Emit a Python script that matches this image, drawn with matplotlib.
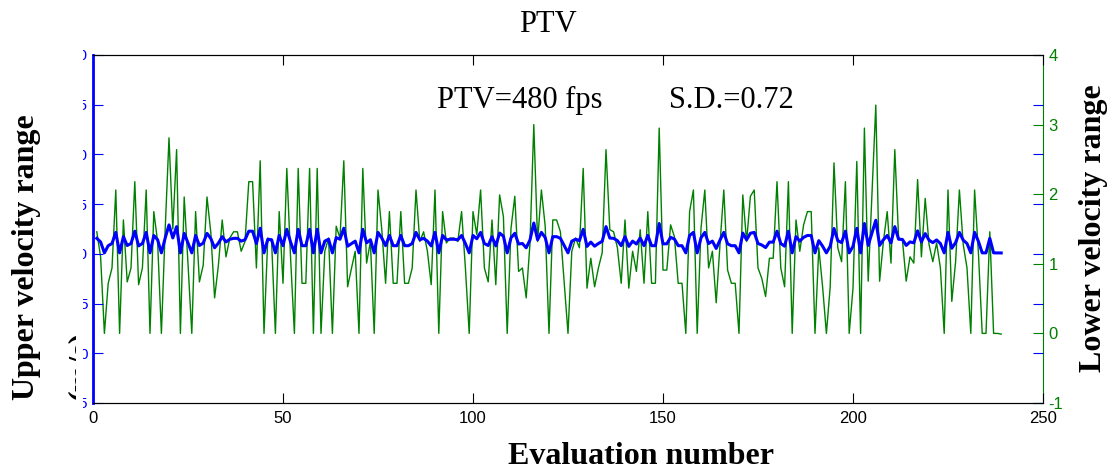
import numpy as np
import matplotlib
matplotlib.use("Agg")
import matplotlib.pyplot as plt
from matplotlib.transforms import Bbox, TransformedBbox

# data (evaluation 1..239)
lower_velocity = [
    1.46, 1.10, 0.00, 0.72, 0.94, 2.06, 0.00, 1.63, 0.74, 0.94,
    2.18, 0.70, 0.94, 2.06, 0.00, 1.75, 1.32, 0.00, 1.50, 2.81,
    1.50, 2.64, 0.00, 1.96, 1.00, 0.00, 1.75, 0.74, 0.98, 1.96,
    1.45, 0.51, 0.98, 1.63, 1.10, 1.37, 1.46, 1.46, 1.18, 1.32,
    2.18, 2.18, 0.94, 2.48, 0.00, 1.37, 1.32, 0.00, 1.75, 0.72,
    2.37, 1.08, 0.00, 2.37, 0.72, 0.72, 2.37, 0.00, 2.37, 0.00,
    1.18, 1.37, 0.00, 1.54, 1.37, 2.48, 0.67, 0.93, 1.18, 0.00,
    2.37, 1.01, 1.32, 0.00, 2.06, 1.49, 0.72, 1.75, 0.72, 0.72,
    1.75, 0.72, 0.72, 0.94, 2.06, 1.32, 1.46, 1.18, 0.70, 2.06,
    0.00, 1.75, 1.30, 1.37, 1.37, 1.32, 1.75, 0.94, 0.00, 1.75,
    1.42, 2.06, 0.94, 0.74, 1.63, 0.70, 1.99, 1.68, 0.00, 1.51,
    1.97, 0.89, 0.94, 0.51, 1.30, 3.00, 1.32, 2.06, 1.54, 0.00,
    1.63, 1.63, 1.46, 0.74, 0.00, 1.18, 1.37, 1.23, 2.37, 0.65,
    1.08, 0.67, 0.94, 1.16, 2.64, 1.49, 1.46, 1.23, 0.72, 1.63,
    0.65, 1.18, 0.89, 1.49, 0.72, 1.75, 0.72, 0.72, 2.95, 0.91,
    0.91, 1.56, 1.39, 0.72, 0.72, 0.00, 1.75, 2.06, 0.00, 1.51,
    2.06, 0.94, 1.18, 0.44, 1.28, 2.06, 0.91, 0.72, 0.72, 0.00,
    1.99, 1.32, 1.97, 2.06, 0.94, 0.79, 0.53, 1.08, 1.08, 2.18,
    0.94, 0.67, 2.18, 0.00, 1.63, 1.18, 1.56, 1.75, 1.75, 0.00,
    1.23, 0.67, 0.00, 0.67, 2.45, 1.23, 1.03, 2.18, 0.00, 0.65,
    2.47, 0.00, 2.95, 0.75, 2.00, 3.28, 0.75, 1.32, 1.75, 1.01,
    2.64, 1.37, 1.35, 0.75, 1.10, 1.01, 2.21, 1.10, 1.94, 1.28,
    1.03, 1.30, 0.94, 0.00, 2.06, 0.46, 1.03, 2.06, 1.28, 0.94,
    0.00, 2.06, 1.16, 0.00, 0.00, 1.46, 0.00, 0.00, -0.01,
]

upper_velocity = [
    11.56, 11.20, 10.10, 10.82, 11.04, 12.16, 10.10, 11.73, 10.84, 11.04,
    12.28, 10.80, 11.04, 12.16, 10.10, 11.85, 11.42, 10.10, 11.60, 12.91,
    11.60, 12.74, 10.10, 12.06, 11.10, 10.10, 11.85, 10.84, 11.08, 12.06,
    11.55, 10.61, 11.08, 11.73, 11.20, 11.47, 11.56, 11.56, 11.28, 11.42,
    12.28, 12.28, 11.04, 12.58, 10.10, 11.47, 11.42, 10.10, 11.85, 10.82,
    12.47, 11.18, 10.10, 12.47, 10.82, 10.82, 12.47, 10.10, 12.47, 10.10,
    11.28, 11.47, 10.10, 11.64, 11.47, 12.58, 10.77, 11.03, 11.28, 10.10,
    12.47, 11.11, 11.42, 10.10, 12.16, 11.59, 10.82, 11.85, 10.82, 10.82,
    11.85, 10.82, 10.82, 11.04, 12.16, 11.42, 11.56, 11.28, 10.80, 12.16,
    10.10, 11.85, 11.40, 11.47, 11.47, 11.42, 11.85, 11.04, 10.10, 11.85,
    11.52, 12.16, 11.04, 10.84, 11.73, 10.80, 12.09, 11.78, 10.10, 11.61,
    12.07, 10.99, 11.04, 10.61, 11.40, 13.10, 11.42, 12.16, 11.64, 10.10,
    11.73, 11.73, 11.56, 10.84, 10.10, 11.28, 11.47, 11.33, 12.47, 10.75,
    11.18, 10.77, 11.04, 11.26, 12.74, 11.59, 11.56, 11.33, 10.82, 11.73,
    10.75, 11.28, 10.99, 11.59, 10.82, 11.85, 10.82, 10.82, 13.05, 11.01,
    11.01, 11.66, 11.49, 10.82, 10.82, 10.10, 11.85, 12.16, 10.10, 11.61,
    12.16, 11.04, 11.28, 10.54, 11.38, 12.16, 11.01, 10.82, 10.82, 10.10,
    12.09, 11.42, 12.07, 12.16, 11.04, 10.89, 10.63, 11.18, 11.18, 12.28,
    11.04, 10.77, 12.28, 10.10, 11.73, 11.28, 11.66, 11.85, 11.85, 10.10,
    11.33, 10.77, 10.10, 10.77, 12.55, 11.33, 11.13, 12.28, 10.10, 10.75,
    12.57, 10.10, 13.05, 10.85, 12.10, 13.38, 10.85, 11.42, 11.85, 11.11,
    12.74, 11.47, 11.45, 10.85, 11.20, 11.11, 12.31, 11.20, 12.04, 11.38,
    11.13, 11.40, 11.04, 10.10, 12.16, 10.56, 11.13, 12.16, 11.38, 11.04,
    10.10, 12.16, 11.26, 10.10, 10.10, 11.56, 10.10, 10.10, 10.09,
]

eval_number = np.arange(1, len(lower_velocity) + 1)

x_ticks = [0, 50, 100, 150, 200, 250]
upper_ticks = [-5, 0, 5, 10, 15, 20, 25, 30]
lower_ticks = [-1, 0, 1, 2, 3, 4]

blue = "#0000ff"
green = "#008000"
W, H = 1113, 470
serif = "Liberation Serif"
sans = ["Liberation Sans Narrow", "Liberation Sans"]

fig = plt.figure(figsize=(W / 100, H / 100), dpi=100)
ax_up = fig.add_axes([93 / W, 1 - 403 / H, 950 / W, 348 / H])
ax_low = ax_up.twinx()
ax_up.set_zorder(2)
ax_low.set_zorder(1)
ax_up.patch.set_visible(False)

# lower velocity (green, right axis)
ax_low.plot(eval_number, lower_velocity, color=green, linewidth=1.0)
ax_low.set_ylim(-1, 4)
ax_low.set_yticks(lower_ticks, [str(t) for t in lower_ticks])
ax_low.tick_params(axis="y", colors=green, direction="in", length=7,
                   labelsize=12, pad=4)
for lbl in ax_low.get_yticklabels():
    lbl.set_fontfamily(sans)

# upper velocity (blue, left axis)
ax_up.plot(eval_number, upper_velocity, color=blue, linewidth=2.2)
ax_up.set_xlim(0, 250)
ax_up.set_ylim(-5, 30)
ax_up.set_xticks(x_ticks, [str(t) for t in x_ticks])
ax_up.set_yticks(upper_ticks, [str(t) for t in upper_ticks])
ax_up.tick_params(axis="x", direction="in", length=7, top=True,
                  labelsize=12, pad=6)
ax_up.tick_params(axis="y", colors=blue, direction="in", length=7,
                  left=True, right=True, labelleft=True, labelright=False,
                  labelsize=11, pad=4)
for lbl in ax_up.get_xticklabels() + ax_up.get_yticklabels():
    lbl.set_fontfamily(sans)

ax_up.spines["left"].set_color(blue)
ax_up.spines["left"].set_linewidth(2.0)
ax_up.spines["right"].set_visible(False)
ax_low.spines["left"].set_visible(False)
ax_low.spines["right"].set_color(green)
for s in ["top", "bottom"]:
    ax_up.spines[s].set_color("k")

# the left labels are cut off in the original figure
left_clip = TransformedBbox(Bbox.from_extents(83 / W, 0, 93 / W, 1), fig.transFigure)
for tick in ax_up.yaxis.get_major_ticks():
    tick.label1.set_clip_box(left_clip)
    tick.label1.set_clip_on(True)

# annotations
ax_low.text(90.5, 3.24, "PTV=480 fps", fontsize=22, family=serif, va="baseline")
ax_low.text(151.5, 3.24, "S.D.=0.72", fontsize=22, family=serif, va="baseline")

fig.text(548 / W, 1 - 32 / H, "PTV", fontsize=22, family=serif,
         ha="center", va="baseline")
fig.text(641 / W, 1 - 464 / H, "Evaluation number", fontsize=23, family=serif,
         weight="bold", ha="center", va="baseline")
fig.text(27 / W, 1 - 257 / H, "Upper velocity range", fontsize=23, family=serif,
         weight="bold", rotation=90, ha="center", va="center")
unit = fig.text(67 / W, 1 - 365 / H, "(m/s)", fontsize=23, family=serif,
                weight="bold", rotation=90, ha="left", va="center")
unit.set_clip_box(TransformedBbox(Bbox.from_extents(60 / W, 0, 76 / W, 1), fig.transFigure))
unit.set_clip_on(True)
fig.text(1093 / W, 1 - 228 / H, "Lower velocity range", fontsize=23, family=serif,
         weight="bold", rotation=90, ha="center", va="center")

fig.savefig("out.png", dpi=100)
